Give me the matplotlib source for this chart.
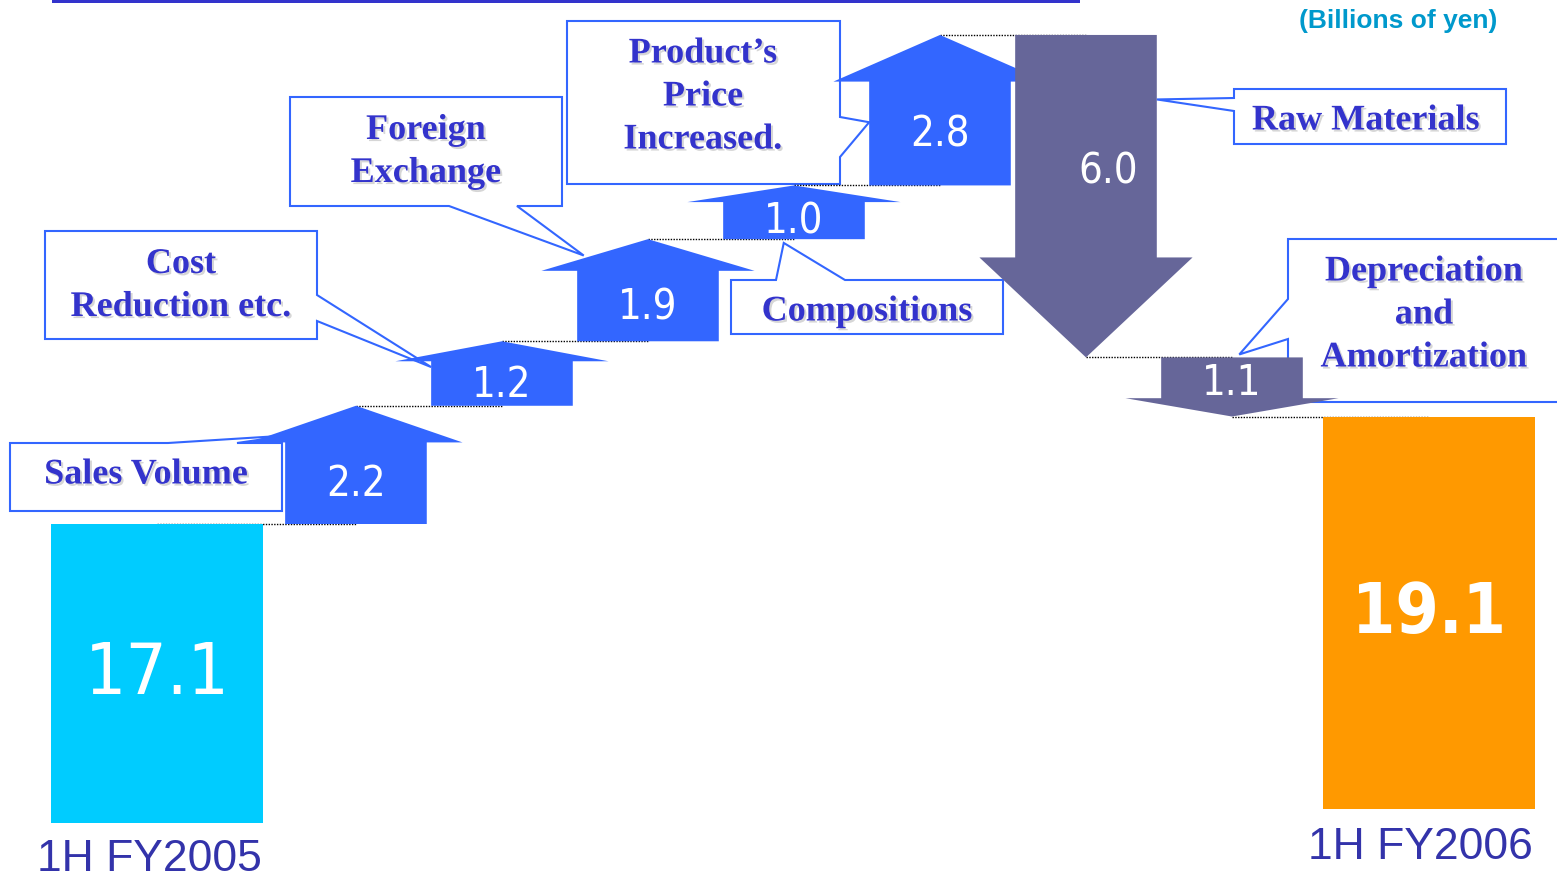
import matplotlib.pyplot as plt
import matplotlib.patheffects as pe
from matplotlib.patches import Polygon, Rectangle
from matplotlib.transforms import blended_transform_factory

# values in billions of yen
periods = ['1H FY2005', '1H FY2006']
start_value = 17.1
end_value = 19.1
factors = ['Sales Volume', 'Cost\nReduction etc.', 'Foreign\nExchange', 'Compositions',
           'Product\u2019s\nPrice\nIncreased.', 'Raw Materials', 'Depreciation\nand\nAmortization']
changes = [2.2, 1.2, 1.9, 1.0, 2.8, -6.0, -1.1]

W, H = 1557, 879
UP = '#3366ff'
DOWN = '#666699'
TXT = '#3333cc'
NUM_FONT = dict(family=['DejaVu Sans'], fontstretch='condensed')


def fpx(x, y):
    # slide pixel (top-left origin) -> figure fraction
    return x / W, 1 - y / H


fig = plt.figure(figsize=(W / 100, H / 100), dpi=100)
ax = fig.add_axes([0, 0, 1, 1])
ax.set_xlim(-1.438, 9.226)
ax.set_ylim(10.513, 26.869)
ax.axis('off')

bar_x = [-0.363, 8.349]
bar_bottom = [11.54, 11.8]
bar_w = 1.452
arrow_x = list(range(1, len(changes) + 1))
body_w, head_w, head_frac = 0.97, 1.46, 0.31

# start / end bars
ax.bar(bar_x[0], start_value - bar_bottom[0], bottom=bar_bottom[0], width=bar_w,
       color='#00ccff', zorder=3)
ax.bar(bar_x[1], end_value - bar_bottom[1], bottom=bar_bottom[1], width=bar_w,
       color='#ff9900', zorder=3)
ax.text(bar_x[0], (start_value + bar_bottom[0]) / 2, f'{start_value}', color='white',
        fontsize=52, ha='center', va='center', zorder=4, **NUM_FONT)
ax.text(bar_x[1], (end_value + bar_bottom[1]) / 2, f'{end_value}', color='white', fontweight='bold',
        fontsize=50, ha='center', va='center', zorder=4, **NUM_FONT)

bt = blended_transform_factory(ax.transData, fig.transFigure)
ax.text(bar_x[0] - 0.05, 1 - 860 / H, periods[0], transform=bt, ha='center', va='center',
        fontsize=32, color='#3333aa', family='Liberation Sans')
ax.text(bar_x[1] - 0.06, 1 - 848 / H, periods[1], transform=bt, ha='center', va='center',
        fontsize=32, color='#3333aa', family='Liberation Sans')

# arrows
levels = [start_value]
for c in changes:
    levels.append(levels[-1] + c)

for i, c in enumerate(changes):
    xc = arrow_x[i]
    y0, y1 = levels[i], levels[i + 1]
    yh = y1 - head_frac * (y1 - y0)
    pts = [(xc - body_w / 2, y0), (xc - body_w / 2, yh), (xc - head_w / 2, yh), (xc, y1),
           (xc + head_w / 2, yh), (xc + body_w / 2, yh), (xc + body_w / 2, y0)]
    ax.add_patch(Polygon(pts, closed=True, fc=UP if c > 0 else DOWN, ec='none', zorder=3))
    ly = (y0 + yh) / 2 if c > 0 else y0 + 0.42 * (y1 - y0)
    ax.text(xc + (0.15 if c < -2 else 0), ly, f'{abs(c):.1f}', color='white', fontsize=30,
            ha='center', va='center', zorder=4, **NUM_FONT)

# dotted connectors
xs = [bar_x[0]] + arrow_x + [bar_x[1]]
for i in range(len(xs) - 1):
    ax.plot([xs[i], xs[i + 1]], [levels[i], levels[i]], color='black', lw=1,
            ls=(0, (1, 1)), zorder=2.5)


def callout(box, side, base, idx, dx, frac, text, tc):
    x0, y0, x1, y1 = box
    tip = (arrow_x[idx] + dx, levels[idx] + frac * (levels[idx + 1] - levels[idx]))
    fx, fy = fig.transFigure.inverted().transform(ax.transData.transform(tip))
    t = (fx * W, (1 - fy) * H)
    a, b = base
    tl, tr, br, bl = (x0, y0), (x1, y0), (x1, y1), (x0, y1)
    if side == 'top':
        pts = [tl, (a, y0), t, (b, y0), tr, br, bl]
    elif side == 'right':
        pts = [tl, tr, (x1, a), t, (x1, b), br, bl]
    elif side == 'bottom':
        pts = [tl, tr, br, (b, y1), t, (a, y1), bl]
    else:
        pts = [tl, tr, br, bl, (x0, b), t, (x0, a)]
    ax.add_patch(Polygon([fpx(*p) for p in pts], closed=True, transform=fig.transFigure,
                         fc='white', ec=UP, lw=1.5, zorder=1))
    ax.text(*fpx(*tc), text, transform=fig.transFigure, ha='center', va='center',
            fontsize=26, fontweight='bold', family='Liberation Serif', color=TXT,
            linespacing=1.4, zorder=2,
            path_effects=[pe.withSimplePatchShadow(offset=(1.5, -1.5), shadow_rgbFace='#999999', alpha=0.4)])


callout((10, 444, 282, 512), 'top', (168, 237), 0, -0.45, 0.75, factors[0], (146, 476))
callout((45, 232, 317, 340), 'right', (296, 322), 1, -0.485, 0.6, factors[1], (181, 287))
callout((290, 98, 562, 207), 'bottom', (449, 517), 2, -0.44, 0.84, factors[2], (426, 153))
callout((731, 281, 1003, 335), 'top', (776, 845), 3, -0.07, -0.07, factors[3], (867, 313))
callout((567, 22, 840, 185), 'right', (118, 158), 4, -0.485, 0.42, factors[4], (703, 98))
callout((1234, 90, 1506, 145), 'left', (99, 112), 5, 0.485, 0.2, factors[5], (1366, 122))
callout((1288, 240, 1575, 403), 'left', (300, 340), 6, 0.05, -0.05, factors[6], (1424, 316))

# unit note and cut-off title rule
ax.text(*fpx(1398, 21), '(Billions of yen)', transform=fig.transFigure, ha='center', va='center',
        fontsize=19, fontweight='bold', color='#0099cc', family='Liberation Sans')
ax.add_patch(Rectangle(fpx(52, 4), 1028 / W, 4 / H, transform=fig.transFigure,
                       fc='#3333cc', ec='none', zorder=5))

fig.savefig('out.png', dpi=100)
